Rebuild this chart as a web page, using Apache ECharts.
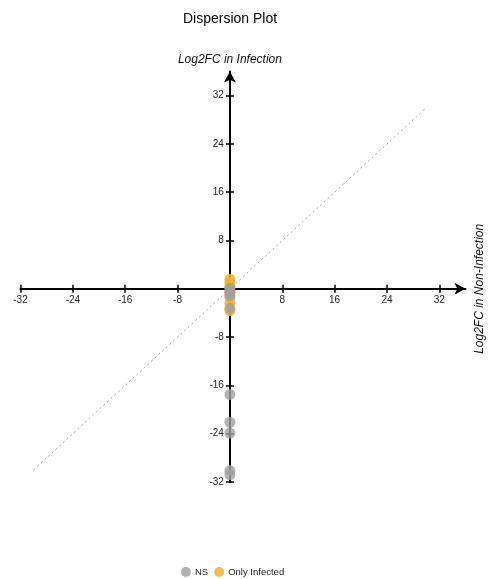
<!DOCTYPE html>
<html>
<head>
<meta charset="utf-8">
<script src="https://cdn.jsdelivr.net/npm/echarts@6/dist/echarts.min.js"></script>
<style>
html,body{margin:0;padding:0;background:#fff;}
#chart{width:495px;height:579px;}
</style>
</head>
<body>
<div id="chart"></div>
<script>
var titleText = 'Dispersion Plot';
var xName = 'Log2FC in Non-Infection';
var yName = 'Log2FC in Infection';
var tickValues = [-32, -24, -16, -8, 0, 8, 16, 24, 32];
var labelValues = [-32, -24, -16, -8, 8, 16, 24, 32];
var diagonal = [[-30, -30], [30, 30]];
var nsPoints = [[0, 0.1], [0, -0.3], [0, -0.6], [0, -1.1], [0, -3.2], [0, -17.5], [0, -22.1], [0, -23.9], [0, -30.1], [0, -30.8]];
var infectedPoints = [[0, 1.6], [0, 1.0], [0, 0.4], [0, -0.6], [0, -1.5], [0, -2.4], [0, -3.6]];

var font = 'Liberation Sans, Arial, sans-serif';
var W = 495, H = 579;
var G = {left: 20.5, right: 29.5, top: 71.5, bottom: 97};
var AX = {min: -32, max: 36};
var plotW = W - G.left - G.right, plotH = H - G.top - G.bottom;
var zeroX = G.left + (0 - AX.min) / (AX.max - AX.min) * plotW;
var zeroY = G.top + (AX.max - 0) / (AX.max - AX.min) * plotH;

var chart = echarts.init(document.getElementById('chart'), null, {renderer: 'canvas'});

function xAx(primary) {
  return {
    type: 'value', min: AX.min, max: AX.max,
    position: primary ? 'bottom' : 'top',
    offset: primary ? -((H - G.bottom) - zeroY) : -(zeroY - G.top),
    splitLine: {show: false},
    axisLine: primary ? {show: true, onZero: false, symbol: ['none', 'arrow'], symbolSize: [9, 11], lineStyle: {color: '#000', width: 2}} : {show: false, onZero: false},
    axisTick: {show: true, length: 4, customValues: tickValues, lineStyle: {color: '#000', width: 1.5}},
    axisLabel: primary ? {show: true, customValues: labelValues, margin: 6, color: '#222', fontSize: 10, fontFamily: font} : {show: false},
    name: primary ? xName : '',
    nameLocation: 'end', nameRotate: 90, nameGap: 8,
    nameTextStyle: {fontStyle: 'italic', fontSize: 12, color: '#111', fontFamily: font}
  };
}
function yAx(primary) {
  return {
    type: 'value', min: AX.min, max: AX.max,
    position: primary ? 'left' : 'right',
    offset: primary ? -(zeroX - G.left) : -((W - G.right) - zeroX),
    splitLine: {show: false},
    axisLine: primary ? {show: true, onZero: false, symbol: ['none', 'arrow'], symbolSize: [9, 11], lineStyle: {color: '#000', width: 2}} : {show: false, onZero: false},
    axisTick: {show: true, length: 4, customValues: tickValues, lineStyle: {color: '#000', width: 1.5}},
    axisLabel: primary ? {show: true, customValues: labelValues, margin: 6, color: '#222', fontSize: 10, fontFamily: font} : {show: false},
    name: primary ? yName : '',
    nameLocation: 'end', nameGap: 6,
    nameTextStyle: {fontStyle: 'italic', fontSize: 12, color: '#111', fontFamily: font}
  };
}

chart.setOption({
  animation: false,
  backgroundColor: '#fff',
  title: {text: titleText, left: 178, top: 7, textStyle: {fontSize: 14, fontWeight: 'normal', color: '#000', fontFamily: font}},
  legend: {
    data: ['NS', 'Only Infected'], left: 176, top: 562,
    icon: 'circle', itemWidth: 10, itemHeight: 10, itemGap: 6,
    textStyle: {fontSize: 9.5, color: '#222', fontFamily: font, padding: [0, 0, 0, -1]}
  },
  grid: {left: G.left, right: G.right, top: G.top, bottom: G.bottom, containLabel: false},
  xAxis: [xAx(true), xAx(false)],
  yAxis: [yAx(true), yAx(false)],
  series: [
    {name: 'diag', type: 'line', data: diagonal, symbol: 'none', silent: true, z: 1,
     lineStyle: {color: '#aaa', width: 1, type: [2, 3]}},
    {name: 'Only Infected', type: 'scatter', data: infectedPoints, symbolSize: 11, z: 3,
     itemStyle: {color: '#f0b429', opacity: 0.85}},
    {name: 'NS', type: 'scatter', data: nsPoints, symbolSize: 11, z: 4,
     itemStyle: {color: '#a0a0a0', opacity: 0.8}}
  ]
});
</script>
</body>
</html>
